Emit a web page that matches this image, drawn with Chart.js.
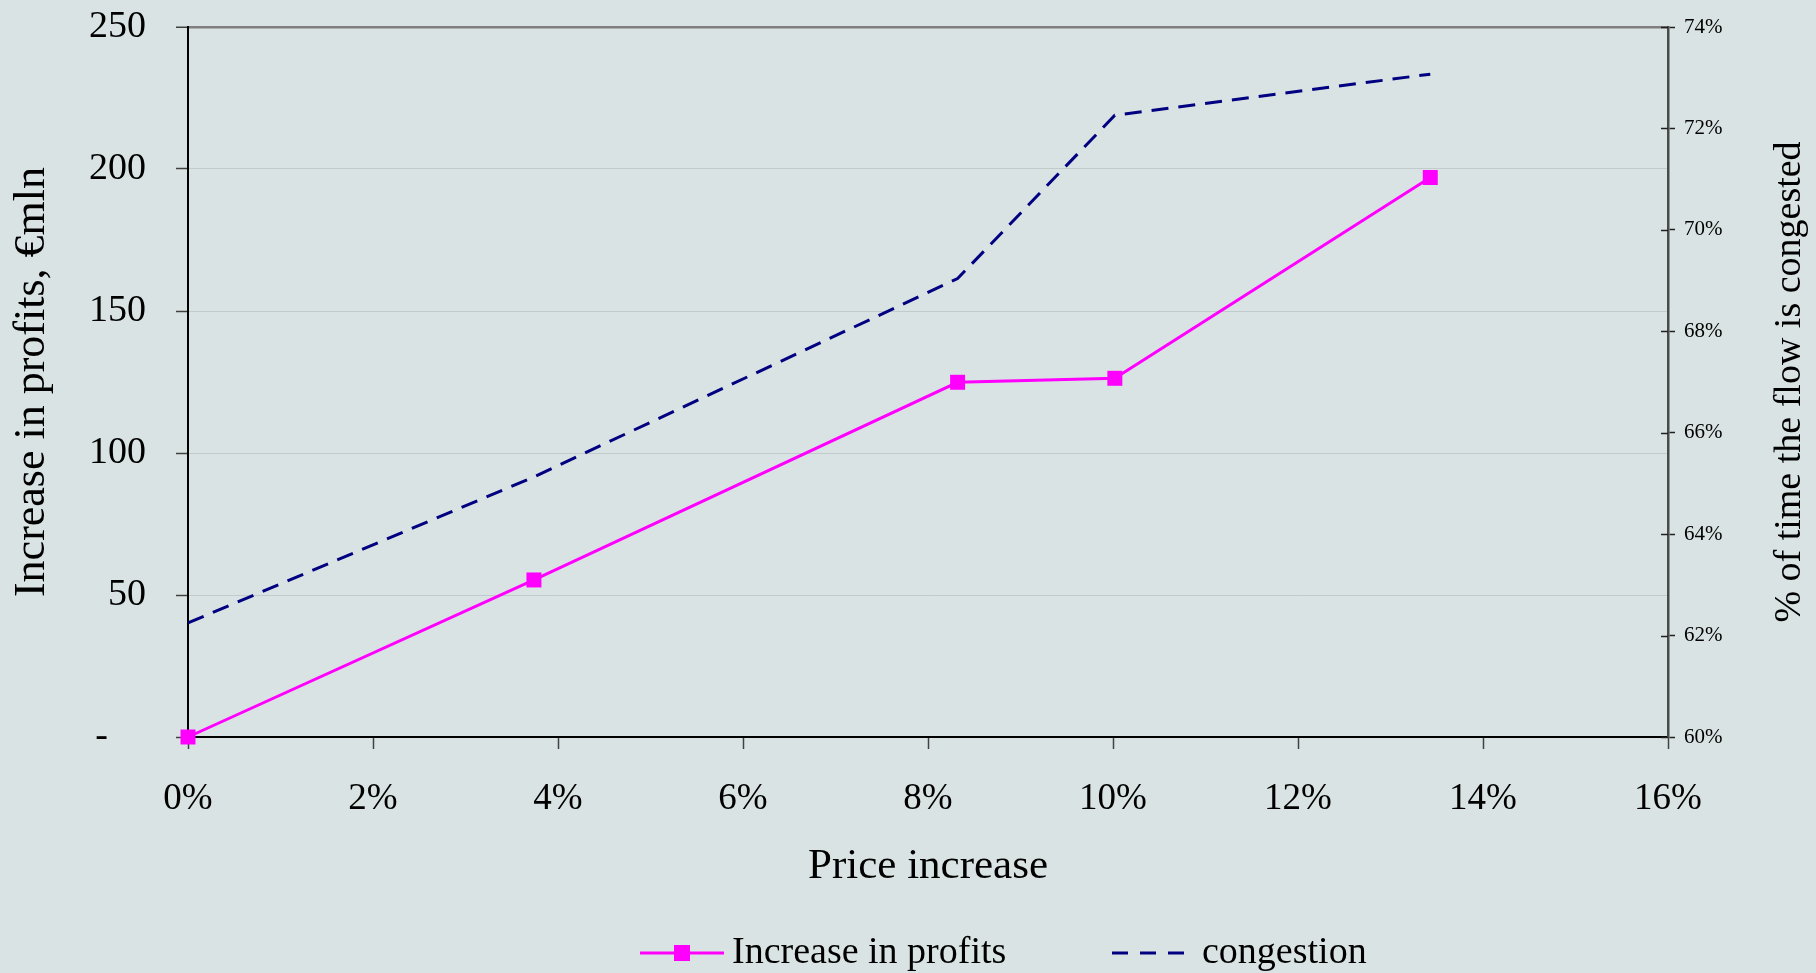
<!DOCTYPE html>
<html>
<head>
<meta charset="utf-8">
<script src="https://cdn.jsdelivr.net/npm/chart.js@4.4.1/dist/chart.umd.min.js"></script>
<style>
  html, body { margin: 0; padding: 0; background: #dae3e3; }
  #wrap { width: 1816px; height: 973px; position: relative; }
</style>
</head>
<body>
<div id="wrap"><canvas id="chart"></canvas></div>
<script>
// Price increase (%) at each simulated step
const priceIncrease = [0, 3.74, 8.32, 10.02, 13.43];
// Increase in profits, EUR mln
const profitIncrease = [0, 55.3, 124.9, 126.3, 197.0];
// Share of time the flow is congested (%)
const congestionShare = [62.25, 65.13, 69.04, 72.26, 73.07];

const seriesNames = ['Increase in profits', 'congestion'];
const axisTitles = {
  x: 'Price increase',
  y: 'Increase in profits, \u20ACmln',
  y1: '% of time the flow is congested'
};

const SERIF = '"Liberation Serif", "Times New Roman", serif';
const PINK = '#ff00ff';
const NAVY = '#000080';

// Keep the plot frame fixed: no extra room reserved for half-height tick labels
function noVerticalPadding(s) { s.paddingTop = 0; s.paddingBottom = 0; }
function noHorizontalPadding(s) { s.paddingLeft = 0; s.paddingRight = 0; }

// Extra axis decoration, rotated right-hand title and the legend row
const decor = {
  id: 'decor',
  afterDraw(chart) {
    const { ctx, chartArea } = chart;
    const y1 = chart.scales.y1;
    ctx.save();

    // inner half of the right-axis tick marks
    ctx.strokeStyle = '#202020';
    ctx.lineWidth = 1.5;
    y1.ticks.forEach(t => {
      const py = Math.round(y1.getPixelForValue(t.value)) + 0.5;
      ctx.beginPath();
      ctx.moveTo(chartArea.right - 7, py);
      ctx.lineTo(chartArea.right, py);
      ctx.stroke();
    });

    // right axis title, reading bottom to top
    ctx.fillStyle = '#000';
    ctx.font = '38px ' + SERIF;
    ctx.textAlign = 'center';
    ctx.textBaseline = 'middle';
    ctx.translate(1790, (chartArea.top + chartArea.bottom) / 2);
    ctx.rotate(-Math.PI / 2);
    ctx.fillText(axisTitles.y1, 0, 0);
    ctx.restore();

    // legend
    ctx.save();
    const ly = 953;
    const ds = chart.data.datasets;
    ctx.font = '38px ' + SERIF;
    ctx.textAlign = 'left';
    ctx.textBaseline = 'middle';

    ctx.strokeStyle = ds[0].borderColor;
    ctx.lineWidth = 3;
    ctx.beginPath();
    ctx.moveTo(640, ly);
    ctx.lineTo(724, ly);
    ctx.stroke();
    ctx.fillStyle = ds[0].pointBackgroundColor;
    ctx.fillRect(682 - 8, ly - 8, 16, 16);
    ctx.fillStyle = '#000';
    ctx.fillText(ds[0].label, 732, ly);

    ctx.strokeStyle = ds[1].borderColor;
    ctx.lineWidth = 3;
    ctx.setLineDash([16, 12]);
    ctx.beginPath();
    ctx.moveTo(1112, ly);
    ctx.lineTo(1188, ly);
    ctx.stroke();
    ctx.setLineDash([]);
    ctx.fillText(ds[1].label, 1202, ly);
    ctx.restore();
  }
};

new Chart(document.getElementById('chart'), {
  type: 'line',
  data: {
    datasets: [
      {
        label: seriesNames[0],
        data: priceIncrease.map((x, i) => ({ x, y: profitIncrease[i] })),
        yAxisID: 'y',
        borderColor: PINK,
        borderWidth: 3,
        pointStyle: 'rect',
        pointRadius: 10.6,
        pointBackgroundColor: PINK,
        pointBorderWidth: 0,
        tension: 0,
        clip: false,
        order: 1
      },
      {
        label: seriesNames[1],
        data: priceIncrease.map((x, i) => ({ x, y: congestionShare[i] })),
        yAxisID: 'y1',
        borderColor: NAVY,
        borderWidth: 3,
        borderDash: [17, 10],
        pointRadius: 0,
        tension: 0,
        order: 2
      }
    ]
  },
  options: {
    responsive: true,
    maintainAspectRatio: false,
    animation: false,
    events: [],
    layout: { padding: { top: 27, left: 0, right: 0, bottom: 0 } },
    plugins: { legend: { display: false }, tooltip: { enabled: false } },
    scales: {
      x: {
        type: 'linear',
        position: 'bottom',
        min: 0,
        max: 16,
        afterFit(s) { s.height = 236; noHorizontalPadding(s); },
        ticks: {
          stepSize: 2,
          padding: 28,
          color: '#000',
          font: { family: SERIF, size: 37 },
          callback: v => v + '%'
        },
        grid: {
          drawOnChartArea: false,
          tickLength: 12,
          tickColor: '#404040',
          tickWidth: 1.5
        },
        border: { color: '#000', width: 2 },
        title: {
          display: true,
          text: axisTitles.x,
          color: '#000',
          font: { family: SERIF, size: 43 },
          padding: { top: 0, bottom: 80 }
        }
      },
      y: {
        type: 'linear',
        position: 'left',
        min: 0,
        max: 250,
        afterFit(s) { s.width = 188; noVerticalPadding(s); },
        ticks: {
          stepSize: 50,
          padding: 30,
          color: '#000',
          font: { family: SERIF, size: 38 },
          callback: v => (v === 0 ? '-    ' : String(v))
        },
        grid: {
          tickLength: 12,
          tickColor: '#404040',
          tickWidth: 1.5,
          color: c => (c.tick.value === 0 ? 'rgba(0,0,0,0)' : c.tick.value === 250 ? '#7f7f7f' : '#c2cbcb'),
          lineWidth: c => (c.tick.value === 250 ? 2.5 : 1)
        },
        border: { color: '#000', width: 2 },
        title: {
          display: true,
          text: axisTitles.y,
          color: '#000',
          font: { family: SERIF, size: 44 },
          padding: { top: 6, bottom: 0 }
        }
      },
      y1: {
        type: 'linear',
        position: 'right',
        min: 60,
        max: 74,
        afterFit(s) { s.width = 148; noVerticalPadding(s); },
        ticks: {
          stepSize: 2,
          padding: 9,
          color: '#000',
          font: { family: SERIF, size: 21 },
          callback: v => v + '%'
        },
        grid: {
          drawOnChartArea: false,
          tickLength: 7,
          tickColor: '#202020',
          tickWidth: 1.5
        },
        border: { color: '#4a4a4a', width: 2.5 }
      }
    }
  },
  plugins: [decor]
});
</script>
</body>
</html>
